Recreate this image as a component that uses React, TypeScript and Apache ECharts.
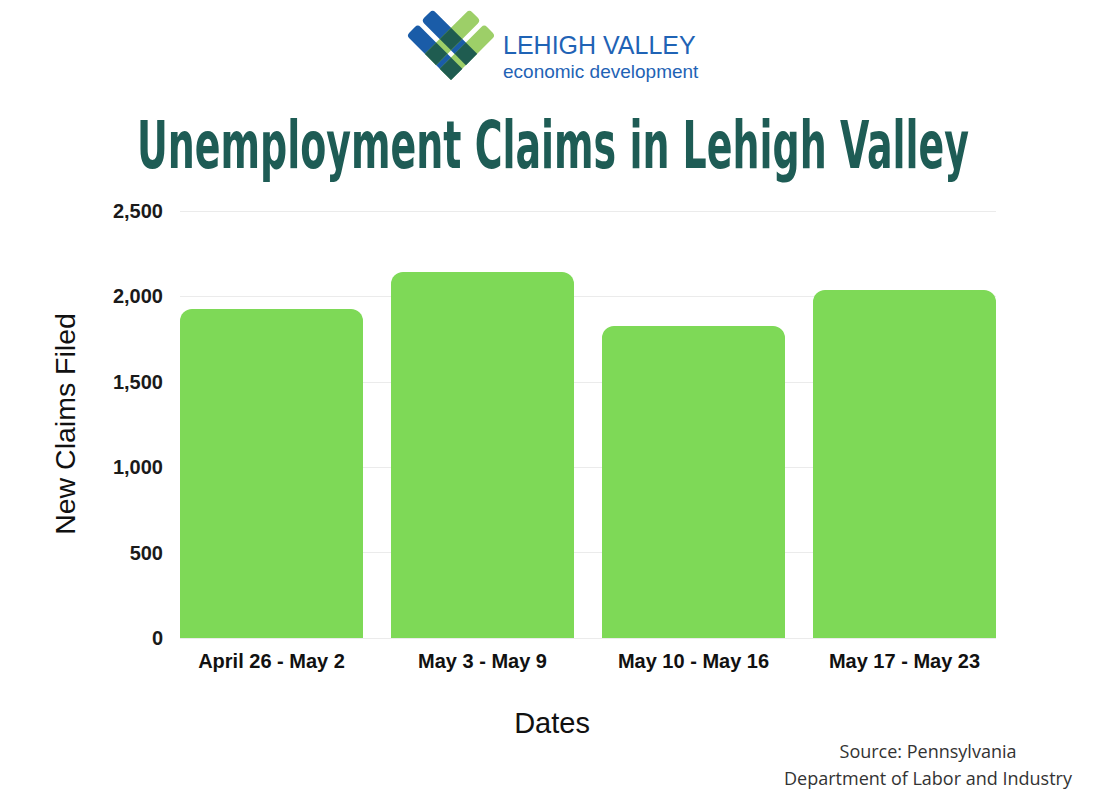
import React, { useEffect, useRef } from "react";
import * as echarts from "echarts";

const categories = ["April 26 - May 2", "May 3 - May 9", "May 10 - May 16", "May 17 - May 23"];
const claims = [1926, 2143, 1827, 2037];
const titleText = "Unemployment Claims in Lehigh Valley";
const yAxisName = "New Claims Filed";
const xAxisName = "Dates";
const sourceLines = ["Source: Pennsylvania", "Department of Labor and Industry"];
const logoLines = ["LEHIGH VALLEY", "economic development"];

const TITLE_FONT = '"DejaVu Sans Condensed", "DejaVu Sans", sans-serif';

function measure(text: string, font: string): number {
  const c = document.createElement("canvas");
  const ctx = c.getContext("2d");
  if (!ctx) return 1;
  ctx.font = font;
  return ctx.measureText(text).width;
}

function logoElements() {
  const blue = "#1a5ca8";
  const green = "#9dcf68";
  const dark = "#1f5c50";
  const W = 16;
  const G = 5;
  const L = 63;
  const offs = [0, W + G];
  const els: any[] = [];
  offs.forEach((o) => {
    els.push({ type: "rect", shape: { x: o, y: -L, width: W, height: L, r: [4, 4, 0, 0] }, style: { fill: blue } });
  });
  offs.forEach((o) => {
    els.push({ type: "rect", shape: { x: 0, y: -o - W, width: L, height: W, r: [0, 4, 4, 0] }, style: { fill: green } });
  });
  offs.forEach((oa) => {
    offs.forEach((ob) => {
      els.push({ type: "rect", shape: { x: ob, y: -oa - W, width: W, height: W }, style: { fill: dark } });
    });
  });
  return els;
}

export default function App() {
  const ref = useRef<HTMLDivElement>(null);
  useEffect(() => {
    if (!ref.current) return;
    const chart = echarts.init(ref.current, undefined, { renderer: "svg" });
    const titleSize = 66;
    const tw = measure(titleText, `bold ${titleSize}px ${TITLE_FONT}`);
    const sx = 832 / tw;
    const labelFont = '"Liberation Sans", Arial, sans-serif';

    const option: any = {
      animation: false,
      backgroundColor: "#ffffff",
      grid: [
        { left: 166, right: 90, top: 211, bottom: 162 },
        { left: 180, right: 104, top: 211, bottom: 162 },
      ],
      xAxis: [
        {
          type: "category",
          gridIndex: 0,
          data: categories,
          axisLine: { show: false },
          axisTick: { show: false },
          axisLabel: {
            margin: 13,
            fontSize: 20,
            fontWeight: "bold",
            color: "#111111",
            fontFamily: labelFont,
          },
        },
        { type: "value", gridIndex: 1, show: false, min: 0, max: 1 },
      ],
      yAxis: [
        { type: "value", gridIndex: 0, min: 0, max: 2500, interval: 500, show: false },
        {
          type: "value",
          gridIndex: 1,
          min: 0,
          max: 2500,
          interval: 500,
          axisLine: { show: false },
          axisTick: { show: false },
          axisLabel: {
            margin: 17,
            fontSize: 20,
            fontWeight: "bold",
            color: "#1a1a1a",
            fontFamily: labelFont,
            formatter: (v: number) => v.toLocaleString("en-US"),
          },
          splitLine: { lineStyle: { color: "#ebebeb", width: 1 } },
        },
      ],
      series: [
        {
          type: "bar",
          xAxisIndex: 0,
          yAxisIndex: 0,
          data: claims,
          barWidth: 183,
          itemStyle: { color: "#7ed957", borderRadius: [12, 12, 0, 0] },
        },
      ],
      graphic: [
        {
          type: "group",
          x: 451,
          y: 80,
          rotation: Math.PI / 4,
          children: logoElements(),
        },
        {
          type: "text",
          x: 503,
          y: 45,
          style: {
            text: logoLines[0],
            fontSize: 25,
            fontFamily: labelFont,
            fill: "#1f63b5",
            textAlign: "left",
            textVerticalAlign: "middle",
          },
        },
        {
          type: "text",
          x: 503,
          y: 71,
          style: {
            text: logoLines[1],
            fontSize: 19,
            fontFamily: labelFont,
            fill: "#1f63b5",
            textAlign: "left",
            textVerticalAlign: "middle",
          },
        },
        {
          type: "text",
          x: 553,
          y: 145,
          scaleX: sx,
          style: {
            text: titleText,
            fontSize: titleSize,
            fontWeight: "bold",
            fontFamily: TITLE_FONT,
            fill: "#1e5c55",
            textAlign: "center",
            textVerticalAlign: "middle",
          },
        },
        {
          type: "text",
          x: 65,
          y: 424,
          rotation: Math.PI / 2,
          style: {
            text: yAxisName,
            fontSize: 28.5,
            fontFamily: labelFont,
            fill: "#111111",
            textAlign: "center",
            textVerticalAlign: "middle",
          },
        },
        {
          type: "text",
          x: 552,
          y: 723,
          style: {
            text: xAxisName,
            fontSize: 29,
            fontFamily: labelFont,
            fill: "#111111",
            textAlign: "center",
            textVerticalAlign: "middle",
          },
        },
        {
          type: "text",
          x: 928,
          y: 751,
          style: {
            text: sourceLines[0],
            fontSize: 18,
            fontFamily: '"Open Sans", sans-serif',
            fill: "#333333",
            textAlign: "center",
            textVerticalAlign: "middle",
          },
        },
        {
          type: "text",
          x: 928,
          y: 778,
          style: {
            text: sourceLines[1],
            fontSize: 18,
            fontFamily: '"Open Sans", sans-serif',
            fill: "#333333",
            textAlign: "center",
            textVerticalAlign: "middle",
          },
        },
      ],
    };
    chart.setOption(option);
    return () => chart.dispose();
  }, []);
  return <div ref={ref} style={{ width: 1100, height: 800, position: "absolute", left: 0, top: 0 }} />;
}
